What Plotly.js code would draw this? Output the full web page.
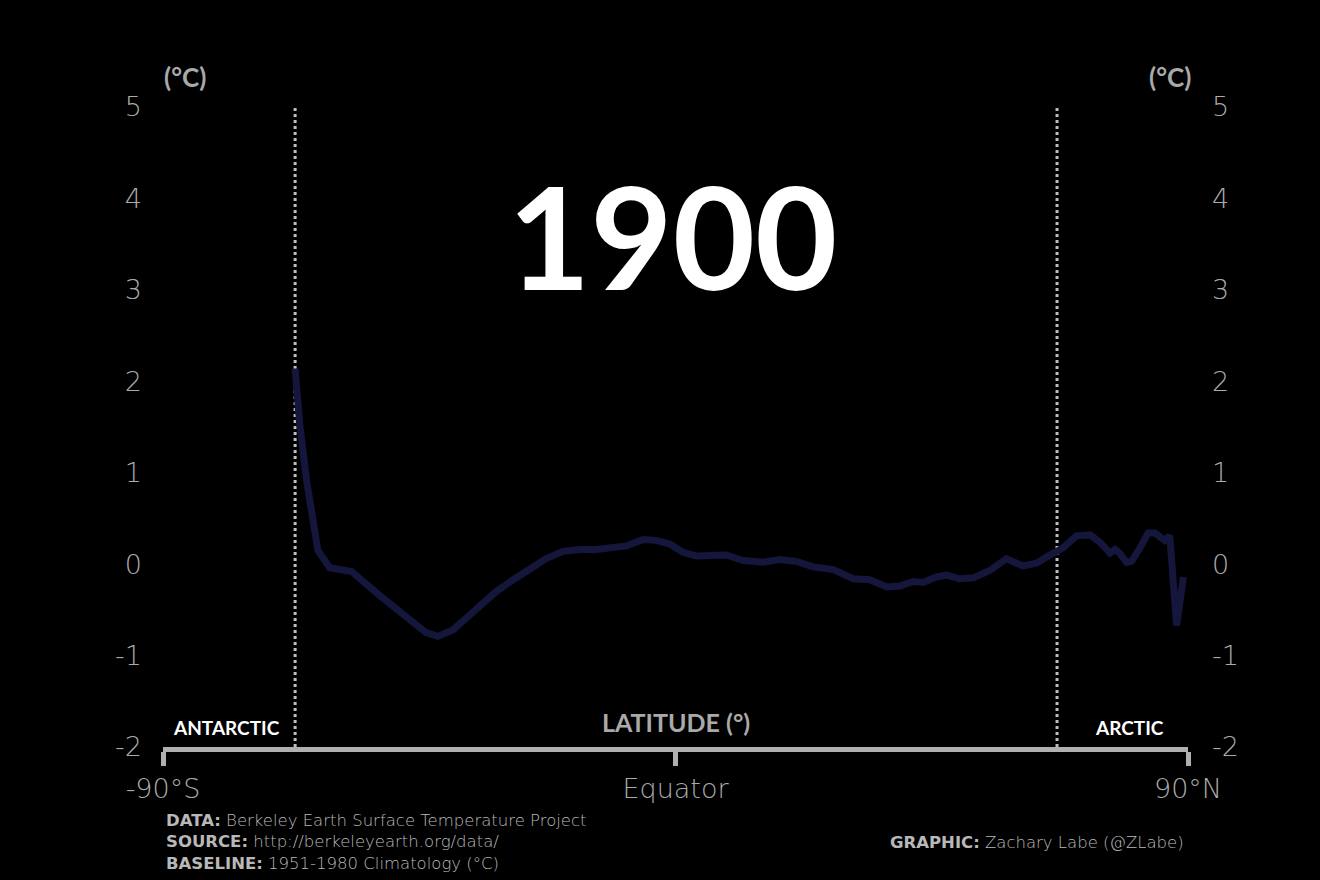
<!DOCTYPE html>
<html>
<head>
<meta charset="utf-8">
<script src="https://cdn.plot.ly/plotly-3.0.1.min.js"></script>
<style>html,body{margin:0;padding:0;background:#000;}#chart{width:1320px;height:880px;}</style>
</head>
<body>
<div id="chart"></div>
<script>
// Latitude (degrees) and temperature anomaly (°C) for 1900
const latitudes = [-66.8,-66.0,-64.8,-63.7,-62.8,-60.7,-56.9,-52.0,-47.3,-43.8,-41.7,-39.1,-36.2,-34.4,-31.5,-28.5,-25.6,-22.7,-19.8,-16.8,-13.9,-11.0,-8.6,-5.7,-3.4,-1.0,1.3,3.7,6.6,8.9,11.9,15.4,18.3,21.2,24.2,27.7,31.2,34.1,37.1,39.4,41.7,43.5,45.8,47.6,49.9,52.3,55.2,57.5,58.1,61.0,63.4,65.2,68.1,70.4,72.8,74.5,76.3,77.2,78.0,79.2,80.1,81.5,83.0,84.2,85.9,86.8,88.0,89.2];
const anomalies = [2.14,1.54,0.92,0.45,0.15,-0.04,-0.08,-0.34,-0.58,-0.75,-0.79,-0.72,-0.56,-0.46,-0.30,-0.17,-0.06,0.06,0.14,0.16,0.16,0.18,0.20,0.27,0.26,0.22,0.13,0.09,0.10,0.10,0.04,0.02,0.05,0.03,-0.03,-0.06,-0.16,-0.17,-0.25,-0.24,-0.19,-0.20,-0.14,-0.12,-0.16,-0.15,-0.07,0.05,0.06,-0.02,0.01,0.08,0.18,0.31,0.32,0.24,0.12,0.16,0.12,0.02,0.03,0.17,0.34,0.34,0.26,0.31,-0.67,-0.14];
const yearLabel = "1900";
const xTickVals = [-90, 0, 90];
const xTickText = ["-90°S", "Equator", "90°N"];
const yTickVals = [-2, -1, 0, 1, 2, 3, 4, 5];
const yTickText = ["-2", "-1", "0", "1", "2", "3", "4", "5"];
const polarCircles = [-66.8, 67.0];
const footerLines = [
  ["DATA:", "Berkeley Earth Surface Temperature Project"],
  ["SOURCE:", "http://berkeleyearth.org/data/"],
  ["BASELINE:", "1951-1980 Climatology (°C)"]
];
const creditLine = ["GRAPHIC:", "Zachary Labe (@ZLabe)"];

const thinFont = "'DejaVu Sans', 'Open Sans', sans-serif";
const boldFont = "Lato, 'Open Sans', sans-serif";
const tickFont = {family: thinFont, size: 27, color: "#ababab", weight: 200};

const traces = [
  {x: latitudes, y: anomalies, type: "scatter", mode: "lines",
   line: {color: "#14163b", width: 7, shape: "linear"}, hoverinfo: "skip", showlegend: false},
  {x: [null], y: [null], yaxis: "y2", type: "scatter", mode: "lines", showlegend: false, hoverinfo: "skip"}
];

const shapes = polarCircles.map(v => ({
  type: "line", xref: "x", yref: "y", x0: v, x1: v, y0: -2, y1: 5,
  line: {color: "#bdbdbd", width: 3, dash: "dot"}, layer: "below"
}));

const ann = (text, x, y, font, opts) => Object.assign({
  text: text, xref: "paper", yref: "paper", x: x, y: y, showarrow: false,
  xanchor: "center", yanchor: "middle", font: font
}, opts || {});

const footText = footerLines.map(l => "<b>" + l[0] + "</b> " + l[1]).join("<br>");

const annotations = [
  ann("<b>(°C)</b>", 0.0215, 1.047, {family: boldFont, size: 26, color: "#a9a9a9"}),
  ann("<b>(°C)</b>", 0.982, 1.047, {family: boldFont, size: 26, color: "#a9a9a9"}),
  ann("<b>" + yearLabel + "</b>", 0.497, 0.80, {family: boldFont, size: 142, color: "#ffffff"}),
  ann("<b>ANTARCTIC</b>", 0.0615, 0.03, {family: boldFont, size: 19, color: "#ffffff"}),
  ann("<b>ARCTIC</b>", 0.943, 0.03, {family: boldFont, size: 19, color: "#ffffff"}),
  ann("<b>LATITUDE (°)</b>", 0.5, 0.039, {family: boldFont, size: 25, color: "#a9a9a9"}),
  ann(footText, 0.001, -0.148, {family: thinFont, size: 16.5, color: "#b8b8b8", weight: 300}, {xanchor: "left", align: "left"}),
  ann("<b>" + creditLine[0] + "</b> " + creditLine[1], 0.998, -0.149, {family: thinFont, size: 16.5, color: "#b8b8b8", weight: 300}, {xanchor: "right"})
];

const layout = {
  width: 1320, height: 880,
  paper_bgcolor: "#000000", plot_bgcolor: "#000000",
  margin: {l: 163, r: 132, t: 107, b: 133},
  showlegend: false,
  xaxis: {range: [-90, 90], tickmode: "array", tickvals: xTickVals, ticktext: xTickText,
          showgrid: false, zeroline: false, showline: true, linecolor: "#b0b0b0", linewidth: 5,
          ticks: "outside", ticklen: 14, tickwidth: 5, tickcolor: "#b0b0b0",
          tickfont: tickFont, fixedrange: true},
  yaxis: {range: [-2, 5], tickmode: "array", tickvals: yTickVals, ticktext: yTickText, showgrid: false, zeroline: false,
          showline: false, ticks: "", tickfont: tickFont, ticklabelstandoff: 20, fixedrange: true},
  yaxis2: {range: [-2, 5], overlaying: "y", side: "right", tickmode: "array", tickvals: yTickVals, ticktext: yTickText,
           showgrid: false, zeroline: false, showline: false, ticks: "", tickfont: tickFont,
           ticklabelstandoff: 23, fixedrange: true},
  shapes: shapes,
  annotations: annotations
};

Plotly.newPlot("chart", traces, layout, {displayModeBar: false, staticPlot: true});
</script>
</body>
</html>
